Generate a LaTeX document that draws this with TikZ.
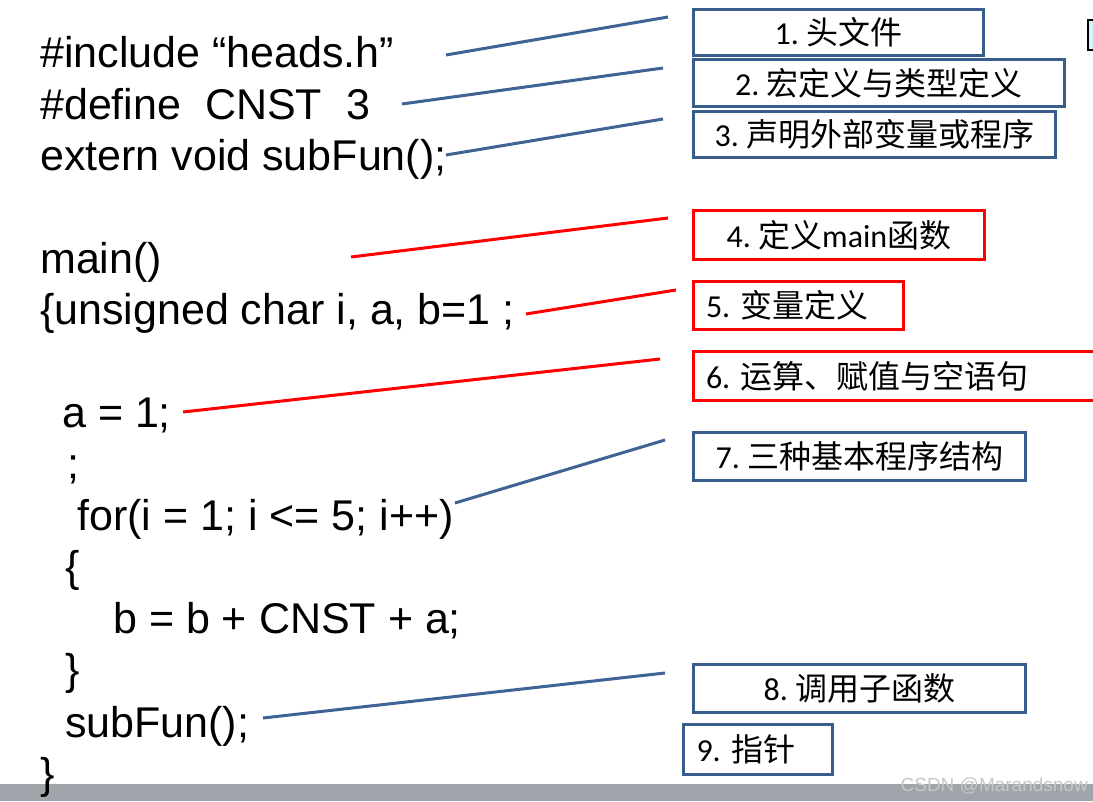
\documentclass[tikz,border=0pt]{standalone}
\usepackage{fontspec}
\setmainfont{Liberation Sans}
\newfontfamily\boxfont{Carlito}
\newfontfamily\cjk{Noto Sans CJK SC}
\usetikzlibrary{positioning,calc}
\frenchspacing

\definecolor{boxblue}{RGB}{56,93,138}
\definecolor{lineblue}{RGB}{62,99,148}
\definecolor{bargray}{RGB}{160,164,171}
\newcommand{\zh}[1]{{\cjk #1}}

\begin{document}
\begin{tikzpicture}[x=1pt,y=-1pt,
    code/.style={anchor=base west,inner sep=0pt,font=\fontsize{43}{51}\selectfont},
    tag/.style={draw=boxblue,line width=3pt,anchor=north west,inner sep=0pt,fill=white,
                font=\fontsize{32}{36}\selectfont\boxfont},
    redtag/.style={tag,draw=red},
    link/.style={draw=lineblue,line width=3pt},
    redlink/.style={link,draw=red}]
  \useasboundingbox (0,0) rectangle (1093,801);
  \clip (0,0) rectangle (1093,801);
  \fill[white] (0,0) rectangle (1093,801);
  \fill[bargray] (0,784) rectangle (1093,801);

  % code on the left
  \node[code] (inc) at (40,67) {\#include “heads.h”};
  \node[code] (def) at (40,119) {\#define\ \ CNST\ \ 3};
  \node[code] (ext) at (40,170) {extern void subFun();};
  \node[code] (mainf) at (40,273) {main()};
  \node[code] (decl) at (40,324) {\{unsigned char i, a, b=1 ;};
  \node[code] (asgn) at (62,427) {a = 1;};
  \node[code] (empty) at (67,478) {;};
  \node[code] (loop) at (77,530) {for(i = 1; i <= 5; i++)};
  \node[code] (lbrace) at (65,581) {\{};
  \node[code] (body) at (113,633) {b = b + CNST + a;};
  \node[code] (rbrace) at (65,684) {\}};
  \node[code] (call) at (65,737) {subFun();};
  \node[code] (close) at (40,788) {\}};

  % boxes on the right
  \node[tag,minimum width=290pt,minimum height=46pt] (b1) at (692,8) {1. \zh{头文件}};
  \node[tag,minimum width=371pt,minimum height=47pt] (b2) at (692,58) {2. \zh{宏定义与类型定义}};
  \node[tag,minimum width=362pt,minimum height=46pt] (b3) at (692,110) {3. \zh{声明外部变量或程序}};
  \node[redtag,minimum width=291pt,minimum height=49pt] (b4) at (692,209) {4. \zh{定义}main\zh{函数}};
  \node[redtag,minimum height=48pt,inner xsep=12.5pt,text width=185pt,align=left] (b5) at (692,280) {5. \zh{变量定义}};
  \node[redtag,minimum height=49pt,inner xsep=12.5pt,text width=385pt,align=left] (b6) at (692,350) {6. \zh{运算、赋值与空语句}};
  \node[tag,minimum width=332pt,minimum height=48pt] (b7) at (692,431) {7. \zh{三种基本程序结构}};
  \node[tag,minimum width=332pt,minimum height=48pt] (b8) at (692,663) {8. \zh{调用子函数}};
  \node[tag,minimum height=50pt,inner xsep=13pt,text width=123pt,align=left] (b9) at (682,723) {9. \zh{指针}};
  \draw[fill=cyan!15,line width=1.5pt] (1088,20) rectangle (1100,50);

  % connectors
  \coordinate (s1) at (446,55);  \coordinate (t1) at (668,17);
  \coordinate (s2) at (402,104); \coordinate (t2) at (663,68);
  \coordinate (s3) at (446,155); \coordinate (t3) at (663,119);
  \coordinate (s4) at (351,257); \coordinate (t4) at (668,218);
  \coordinate (s5) at (526,314); \coordinate (t5) at (676,290);
  \coordinate (s6) at (183,412); \coordinate (t6) at (660,359);
  \coordinate (s7) at (455,503); \coordinate (t7) at (665,440);
  \coordinate (s8) at (263,718); \coordinate (t8) at (665,673);
  \draw[link] (s1) -- (t1);
  \draw[link] (s2) -- (t2);
  \draw[link] (s3) -- (t3);
  \draw[redlink] (s4) -- (t4);
  \draw[redlink] (s5) -- (t5);
  \draw[redlink] (s6) -- (t6);
  \draw[link] (s7) -- (t7);
  \draw[link] (s8) -- (t8);

  \node[anchor=base east,inner sep=0pt,text=black!22,font=\fontsize{19}{22}\selectfont] (mark) at (1088,791) {CSDN @Marandsnow};
\end{tikzpicture}
\end{document}
